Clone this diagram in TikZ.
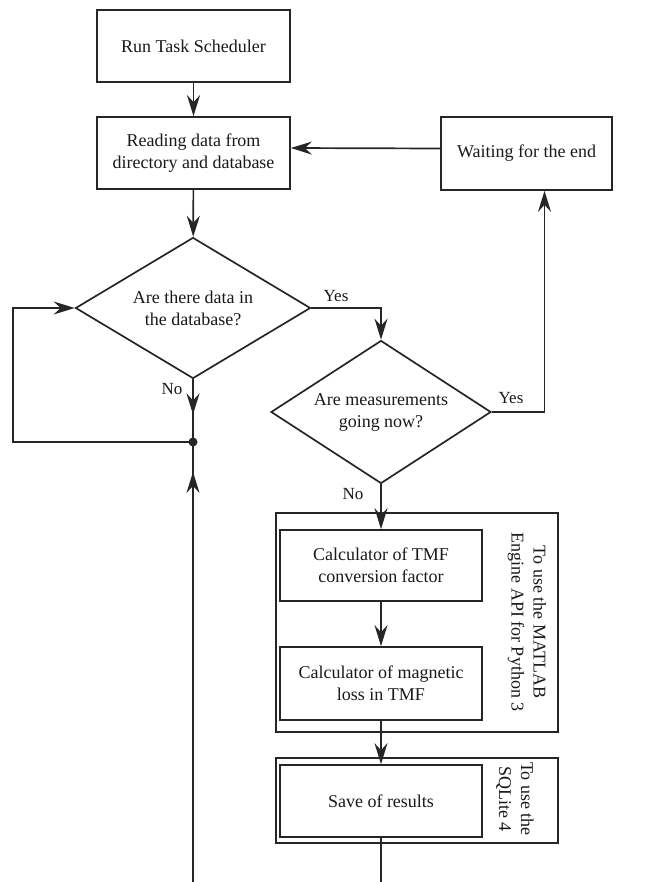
\documentclass[tikz,border=0pt]{standalone}
\usepackage{fontspec}
\setmainfont{Liberation Serif}
\usetikzlibrary{arrows.meta,shapes.geometric,decorations.markings}

\begin{document}
\begin{tikzpicture}[x=1bp,y=-1bp,
  line width=1.7bp, draw=black!85,
  every node/.style={font=\fontsize{18bp}{22bp}\selectfont, text=black!90},
  box/.style={draw=black!85, rectangle, align=center, inner sep=0pt,
    minimum width=193bp, minimum height=72bp},
  grp/.style={draw=black!85, rectangle, inner sep=0pt},
  dec/.style={draw=black!85, diamond, aspect=1.67, align=center, inner sep=0pt,
    minimum width=235bp, minimum height=141bp},
  lbl/.style={font=\fontsize{17bp}{20bp}\selectfont},
  arr/.style={-{Stealth[length=21bp,width=13bp,inset=7bp]}},
  midarr/.style={postaction={decorate}, decoration={markings,
    mark=at position #1 with {\arrow{Stealth[length=21bp,width=13bp,inset=7bp]}}}}]
  \useasboundingbox (0,0) rectangle (646,882);
  % main column
  \node[box] (run) at (193.5,46) {Run Task Scheduler};
  \node[box] (read) at (193.5,153) {Reading data from\\directory and database};
  \node[box, minimum width=171bp, minimum height=73bp] (wait) at (526.5,153.5) {Waiting for the end};
  \node[dec] (d1) at (193,308) {Are there data in\\the database?};
  \node[dec, minimum width=220bp, minimum height=143bp] (d2) at (381,412) {Are measurements\\going now?};
  % frames of the two tool groups
  \node[grp, minimum width=282bp, minimum height=219bp] (matlab) at (417,622.5) {};
  \node[grp, minimum width=282bp, minimum height=85bp] (sqlite) at (417,800.5) {};
  \node[box, minimum width=202bp, minimum height=71bp] (calc1) at (381,565.5) {Calculator of TMF\\conversion factor};
  \node[box, minimum width=202bp, minimum height=73bp] (calc2) at (381,683.5) {Calculator of magnetic\\loss in TMF};
  \node[box, minimum width=202bp, minimum height=72bp] (save) at (381,801) {Save of results};
  \node[rotate=-90, align=center] (matlabnote) at (527,622) {To use the MATLAB\\Engine API for Python 3};
  \node[rotate=-90, align=center] (sqlitenote) at (515,799) {To use the\\SQLite 4};
  % branch labels
  \node[lbl] (yes1) at (336,296) {Yes};
  \node[lbl] (no1) at (172,389) {No};
  \node[lbl] (yes2) at (511,398) {Yes};
  \node[lbl] (no2) at (353,494) {No};
  % helper points
  \coordinate (junc) at (193,442);
  \coordinate (lft) at (13,375);
  \coordinate (bot1) at (193,882);
  \coordinate (bot2) at (381,882);
  \fill[black!85] (junc) circle (4.5bp);
  % connectors
  \draw[arr] (run) -- (read);
  \draw[arr] (read) -- (d1);
  \draw[arr] ([yshift=5bp]wait.west) -- ([yshift=5bp]read.east);
  \draw[arr] (d1.east) -| (d2.north);
  \draw[arr] (d2.east) -| ([xshift=18bp]wait.south);
  \draw[midarr=0.56] (d1.south) -- (junc);
  \draw[arr] (junc) -| (lft) |- (d1.west);
  \draw[midarr=0.932] (bot1) -- (junc);
  \draw[arr] (d2.south) -- (calc1.north);
  \draw[arr] (calc1) -- (calc2);
  \draw[arr] (calc2) -- (save);
  \draw (save.south) -- (bot2);
\end{tikzpicture}
\end{document}
